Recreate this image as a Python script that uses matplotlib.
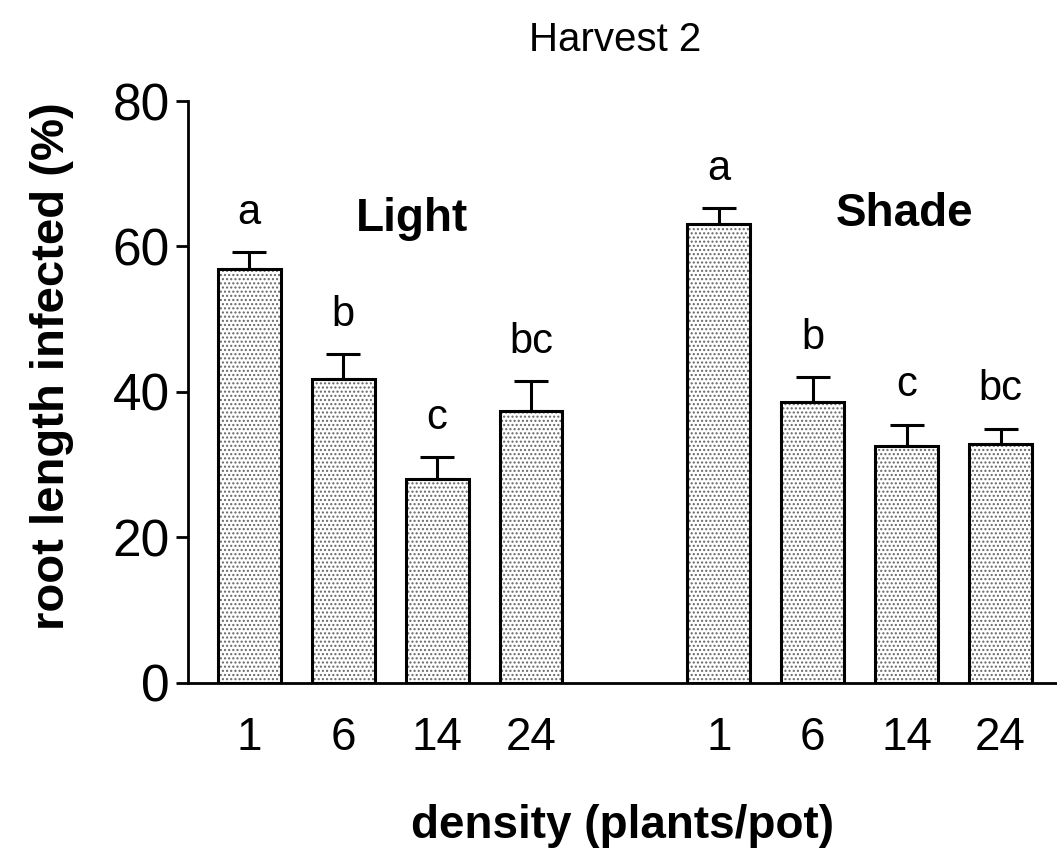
import numpy as np
import matplotlib
matplotlib.use("Agg")
import matplotlib.pyplot as plt

plt.rcParams["font.family"] = ["Liberation Sans", "DejaVu Sans"]

densities = ["1", "6", "14", "24"]
light_vals = [56.9, 41.7, 28.0, 37.3]
light_err = [2.3, 3.5, 3.0, 4.2]
light_letters = ["a", "b", "c", "bc"]
shade_vals = [63.1, 38.6, 32.5, 32.8]
shade_err = [2.2, 3.4, 3.0, 2.1]
shade_letters = ["a", "b", "c", "bc"]

fig = plt.figure(figsize=(10.57, 8.5), dpi=100, facecolor="white")
ax = fig.add_axes([0.178, 0.197, 0.822, 0.684])

x_light = np.arange(4)
x_shade = np.arange(4) + 5
w = 0.67

for xs, vals, err, letters in [(x_light, light_vals, light_err, light_letters),
                               (x_shade, shade_vals, shade_err, shade_letters)]:
    # dotted fill, then black outline on top
    ax.bar(xs, vals, w, color="white", edgecolor="#666666", hatch="....", lw=0, zorder=2)
    ax.bar(xs, vals, w, fill=False, edgecolor="black", lw=2.2, zorder=3)
    ax.errorbar(xs, vals, yerr=[np.zeros(4), err], fmt="none", ecolor="black",
                elinewidth=2.2, capsize=12, capthick=2.2, zorder=4)
    for xi, v, e, s in zip(xs, vals, err, letters):
        ax.annotate(s, xy=(xi, v + e), xytext=(0, 14), textcoords="offset points",
                    ha="center", va="bottom", fontsize=30)

ax.text(1.73, 63.8, "Light", fontsize=33, fontweight="bold", ha="center", va="center")
ax.text(6.98, 64.5, "Shade", fontsize=33, fontweight="bold", ha="center", va="center")

ax.set_xlim(-0.65, 8.6)
ax.set_ylim(0, 80)
ax.set_yticks([0, 20, 40, 60, 80])
ax.tick_params(axis="y", labelsize=37, width=2, length=9, pad=4)
ax.set_xticks(np.concatenate([x_light, x_shade]))
ax.set_xticklabels(densities + densities, fontsize=33)
ax.tick_params(axis="x", length=0, pad=24)

for s in ["top", "right"]:
    ax.spines[s].set_visible(False)
ax.spines["left"].set_linewidth(2)
ax.spines["bottom"].set_linewidth(2)

ax.set_ylabel("root length infected (%)", fontsize=34, fontweight="bold")
ax.yaxis.set_label_coords(-0.131, 0.544)
ax.set_xlabel("density (plants/pot)", fontsize=33, fontweight="bold", labelpad=32)
fig.text(0.582, 0.953, "Harvest 2", fontsize=29, ha="center", va="center")

fig.savefig("out.png", dpi=100)
